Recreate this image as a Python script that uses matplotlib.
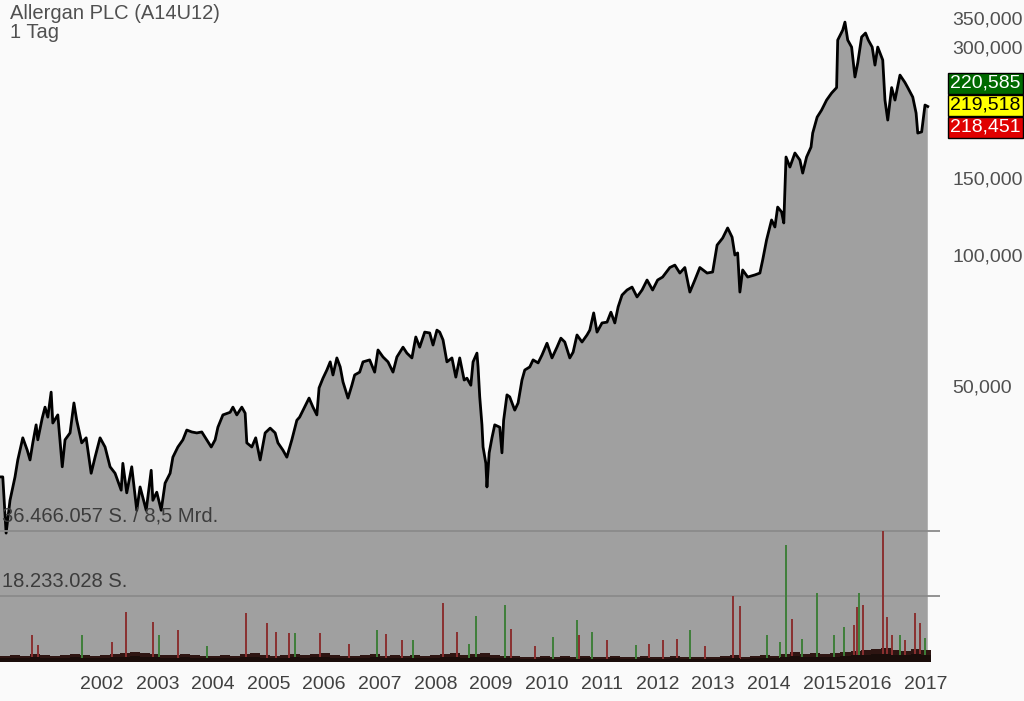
import matplotlib
matplotlib.use("Agg")
import matplotlib.pyplot as plt
from matplotlib.ticker import FixedLocator, FixedFormatter
import numpy as np

plt.rcParams['font.family'] = ['Liberation Sans', 'DejaVu Sans']

# chart position (years along the trading axis) and close price in EUR
pos = [2000.17, 2000.22, 2000.28, 2000.35, 2000.44, 2000.49, 2000.58, 2000.66, 2000.71, 2000.76,
       2000.82, 2000.85, 2000.93, 2000.98, 2001.03, 2001.09, 2001.12, 2001.21, 2001.29, 2001.34,
       2001.43, 2001.50, 2001.55, 2001.64, 2001.72, 2001.81, 2001.88, 2001.97, 2002.06, 2002.15,
       2002.24, 2002.35, 2002.38, 2002.45, 2002.54, 2002.63, 2002.69, 2002.80, 2002.89, 2002.92,
       2002.99, 2003.07, 2003.14, 2003.23, 2003.28, 2003.37, 2003.46, 2003.53, 2003.62, 2003.71,
       2003.80, 2003.89, 2003.97, 2004.04, 2004.09, 2004.18, 2004.31, 2004.36, 2004.43, 2004.52,
       2004.58, 2004.61, 2004.70, 2004.77, 2004.85, 2004.94, 2005.03, 2005.12, 2005.17, 2005.26,
       2005.33, 2005.42, 2005.51, 2005.56, 2005.65, 2005.73, 2005.80, 2005.87, 2005.91, 2005.98,
       2006.05, 2006.11, 2006.16, 2006.23, 2006.29, 2006.34, 2006.43, 2006.50, 2006.55, 2006.64,
       2006.70, 2006.82, 2006.91, 2006.97, 2007.06, 2007.15, 2007.24, 2007.31, 2007.42, 2007.49,
       2007.58, 2007.65, 2007.72, 2007.81, 2007.90, 2007.96, 2008.03, 2008.08, 2008.14, 2008.21,
       2008.30, 2008.37, 2008.44, 2008.52, 2008.57, 2008.64, 2008.68, 2008.75, 2008.77, 2008.80,
       2008.84, 2008.86, 2008.91, 2008.93, 2008.97, 2009.02, 2009.07, 2009.16, 2009.20, 2009.23,
       2009.29, 2009.34, 2009.43, 2009.49, 2009.56, 2009.61, 2009.70, 2009.76, 2009.85, 2009.92,
       2010.01, 2010.10, 2010.19, 2010.26, 2010.33, 2010.42, 2010.48, 2010.55, 2010.64, 2010.73,
       2010.78, 2010.85, 2010.91, 2011.00, 2011.09, 2011.16, 2011.23, 2011.29, 2011.36, 2011.45,
       2011.54, 2011.63, 2011.72, 2011.81, 2011.91, 2012.00, 2012.09, 2012.22, 2012.31, 2012.40,
       2012.49, 2012.58, 2012.67, 2012.76, 2012.89, 2012.99, 2013.07, 2013.17, 2013.26, 2013.34,
       2013.39, 2013.44, 2013.48, 2013.53, 2013.62, 2013.75, 2013.84, 2013.89, 2013.96, 2014.05,
       2014.11, 2014.16, 2014.23, 2014.27, 2014.31, 2014.38, 2014.47, 2014.56, 2014.61, 2014.68,
       2014.76, 2014.79, 2014.87, 2014.95, 2015.04, 2015.13, 2015.22, 2015.24, 2015.33, 2015.37,
       2015.42, 2015.49, 2015.55, 2015.60, 2015.67, 2015.74, 2015.79, 2015.86, 2015.91, 2015.96,
       2016.05, 2016.09, 2016.14, 2016.21, 2016.27, 2016.36, 2016.45, 2016.50, 2016.59, 2016.65,
       2016.68, 2016.75, 2016.81, 2016.86]
close = [30.9, 30.9, 22.95, 27.3, 30.9, 33.8, 38.0, 35.6, 33.8, 37.0,
         40.7, 37.6, 42.2, 44.7, 42.4, 48.4, 41.1, 42.9, 32.6, 37.6,
         39.0, 45.7, 41.7, 37.0, 38.0, 31.5, 34.3, 38.0, 36.2, 32.6,
         31.5, 28.8, 33.2, 28.4, 32.6, 25.9, 29.3, 25.9, 32.0, 27.3,
         28.5, 25.9, 29.9, 31.5, 34.3, 36.2, 37.6, 39.6, 39.2, 39.0,
         39.2, 37.6, 36.2, 37.6, 40.2, 42.9, 43.5, 44.7, 42.9, 44.7,
         43.3, 37.0, 36.2, 38.0, 33.8, 39.0, 40.0, 39.0, 37.0, 35.6,
         34.3, 37.6, 41.7, 42.4, 44.7, 46.9, 44.7, 42.9, 49.5, 52.1,
         54.4, 56.8, 53.0, 58.0, 55.3, 51.1, 46.9, 50.2, 53.0, 53.8,
         56.8, 57.4, 53.8, 60.5, 58.3, 56.8, 53.8, 58.3, 61.4, 59.5,
         58.0, 64.8, 61.4, 66.5, 66.2, 62.1, 67.2, 66.5, 63.8, 56.8,
         58.0, 52.4, 58.0, 51.6, 52.1, 50.2, 56.8, 59.5, 55.3, 47.2,
         40.7, 36.2, 33.2, 29.3, 35.1, 38.0, 40.7, 40.2, 35.1, 41.7,
         47.7, 47.2, 44.0, 45.7, 51.6, 54.4, 55.3, 57.4, 56.5, 58.9,
         62.7, 58.0, 61.4, 64.4, 63.1, 58.0, 59.8, 65.5, 63.1, 65.5,
         67.2, 73.6, 66.5, 69.8, 70.1, 73.9, 69.8, 76.0, 80.9, 83.1,
         84.4, 80.1, 83.1, 87.6, 83.1, 87.6, 89.0, 93.6, 94.8, 90.9,
         93.6, 82.2, 87.6, 93.6, 90.9, 91.4, 105.4, 109.4, 115.4, 109.9,
         100.0, 101.1, 82.2, 92.4, 89.0, 90.0, 90.9, 97.4, 108.3, 120.4,
         116.0, 128.9, 125.6, 118.5, 168.0, 159.3, 171.6, 165.3, 154.3, 168.0,
         177.1, 190.7, 207.5, 215.4, 227.1, 235.7, 242.6, 312.0, 328.9, 343.1,
         312.0, 300.6, 256.6, 276.3, 317.1, 323.8, 312.0, 300.6, 273.3, 300.6,
         280.7, 227.1, 204.3, 242.6, 227.1, 259.2, 249.2, 242.6, 230.7, 212.0,
         190.7, 191.9, 221.2, 219.5]

year_pos = [2002, 2003, 2004, 2005, 2006, 2007, 2008, 2009, 2010, 2011,
            2012, 2013, 2014, 2015, 2015.82, 2016.83]
year_labels = ['2002', '2003', '2004', '2005', '2006', '2007', '2008', '2009', '2010', '2011',
               '2012', '2013', '2014', '2015', '2016', '2017']

price_ticks = [50, 100, 150, 300, 350]
price_labels = ['50,000', '100,000', '150,000', '300,000', '350,000']

# background daily volume, millions of shares, one reading every 0.18 chart years
vol_base_start = 2000.17
vol_base_step = 0.18
vol_base = [1.7, 1.9, 1.7, 2.2, 1.9, 1.7, 1.9, 2.2, 1.9, 1.7,
            1.9, 2.2, 2.5, 2.8, 2.5, 2.2, 1.9, 1.9, 2.2, 1.9,
            1.7, 1.7, 1.9, 1.7, 2.2, 2.5, 1.9, 1.7, 1.9, 2.2,
            1.9, 2.2, 2.5, 1.9, 1.7, 1.7, 1.9, 2.2, 1.7, 1.9,
            1.7, 1.9, 1.7, 1.9, 2.2, 2.5, 1.9, 2.2, 2.5, 1.9,
            1.7, 1.7, 1.4, 1.4, 1.7, 1.4, 1.7, 1.4, 1.7, 1.4,
            1.4, 1.7, 1.4, 1.4, 1.7, 1.4, 1.4, 1.7, 1.4, 1.4,
            1.4, 1.4, 1.7, 1.9, 1.4, 1.7, 1.9, 1.7, 2.2, 2.8,
            2.2, 2.5, 2.2, 2.5, 2.8, 3.1, 3.3, 3.6, 3.9, 3.3,
            3.1, 3.6, 3.3]

# high volume days (millions), green = up day, red = down day
spike_pos = [2000.75, 2000.85, 2001.64, 2002.18, 2002.44, 2002.92, 2003.03, 2003.37, 2003.90,
             2004.59, 2004.97, 2005.13, 2005.37, 2005.48, 2005.93, 2006.45, 2006.95, 2007.11,
             2007.40, 2007.60, 2008.14, 2008.39, 2008.60, 2008.73, 2009.25, 2009.36, 2009.80,
             2010.12, 2010.55, 2010.58, 2010.82, 2011.09, 2011.61, 2011.84, 2012.09, 2012.35,
             2012.58, 2012.85, 2013.35, 2013.48, 2013.97, 2014.20, 2014.31, 2014.42, 2014.60,
             2014.87, 2015.17, 2015.35, 2015.53, 2015.58, 2015.62, 2015.69, 2016.05, 2016.12,
             2016.21, 2016.36, 2016.45, 2016.63, 2016.72, 2016.81]
spike_vol = [7.5, 4.7, 7.5, 5.6, 13.9, 11.1, 7.5, 8.9, 4.5,
             13.6, 10.9, 8.4, 8.1, 8.1, 8.1, 5.0, 8.9, 7.8,
             6.1, 6.1, 16.4, 8.4, 5.0, 12.8, 15.9, 9.2, 4.5,
             7.0, 11.7, 7.5, 8.4, 6.1, 4.7, 5.0, 6.1, 6.4,
             8.9, 4.5, 18.4, 15.6, 7.5, 5.5, 32.6, 12.0, 6.5,
             19.2, 7.5, 9.7, 10.3, 15.3, 19.2, 15.9, 36.5, 12.5,
             7.5, 7.5, 6.1, 13.6, 10.9, 6.7]
spike_up = [False, False, True, False, False, False, True, False, True,
            False, False, False, False, True, False, False, True, False,
            False, True, False, False, True, True, True, False, False,
            True, True, False, True, False, True, False, False, False,
            True, False, False, False, True, True, True, False, True,
            True, True, True, False, False, True, False, False, False,
            False, True, False, False, False, True]

vol_levels = [36466057, 18233028]
vol_level_labels = ['36.466.057 S. / 8,5 Mrd.', '18.233.028 S.']

quotes = ['220,585', '219,518', '218,451']
quote_colors = ['#006a00', '#ffff00', '#e00000']
quote_text = ['white', 'black', 'white']
last_close = 219.518

W, H = 1024, 701
fig = plt.figure(figsize=(W / 100, H / 100), dpi=100, facecolor='#fafafa')
ax = fig.add_axes([0, 39 / H, 940 / W, 662 / H])
ax.set_facecolor('#fafafa')
ax.set_yscale('log')
ax.set_xlim(2000.17, 2017.08)
ax.set_ylim(11.6, 385.7)

ax.fill_between(pos, close, 1, color='#a0a0a0', lw=0, zorder=1)
ax.plot(pos, close, color='black', lw=2.0, zorder=3)

for s in ax.spines.values():
    s.set_visible(False)

# volume panel on the same x axis
vax = ax.twinx()
vax.set_ylim(0, 36.466 * 662 / 131)
vax.set_axis_off()
base_x = vol_base_start + vol_base_step * np.arange(len(vol_base))
vax.bar(base_x, vol_base, width=vol_base_step, align='edge', color='#2e1512', lw=0, zorder=2)
for x, v, up in zip(spike_pos, spike_vol, spike_up):
    vax.vlines(x, 0, v, color='#3f7f3a' if up else '#8a3030', lw=1.4, zorder=3)
vax.bar(base_x, np.array(vol_base) * 0.6, width=vol_base_step, align='edge',
        color='#1a0d0a', lw=0, zorder=4)
for lvl, lab in zip(vol_levels, vol_level_labels):
    vax.axhline(lvl / 1e6, color='#8a8a8a', lw=1.3, zorder=1.5)
    vax.annotate(lab, xy=(0, lvl / 1e6), xycoords=('axes fraction', 'data'),
                 xytext=(2, 5), textcoords='offset pixels', fontsize=14.5,
                 color='#3c3c3c', va='bottom', ha='left', zorder=2)

# twinx moves the price ticks to the left, so set them after it
ax.yaxis.tick_right()
ax.yaxis.set_major_locator(FixedLocator(price_ticks))
ax.yaxis.set_major_formatter(FixedFormatter(price_labels))
ax.yaxis.set_minor_locator(FixedLocator([]))
ax.tick_params(axis='y', which='both', left=False, right=False, length=0, pad=9,
               labelleft=False, labelright=True, labelsize=14, labelcolor='#505050')
ax.xaxis.set_major_locator(FixedLocator(year_pos))
ax.xaxis.set_major_formatter(FixedFormatter(year_labels))
ax.tick_params(axis='x', length=0, pad=10, labelsize=14, labelcolor='#404040')

# last quote boxes
for i, (q, c, tc) in enumerate(zip(quotes, quote_colors, quote_text)):
    ax.annotate(q, xy=(1, last_close), xycoords=('axes fraction', 'data'),
                xytext=(10, 23 - 22 * i), textcoords='offset pixels',
                fontsize=14, color=tc, va='center', ha='left', annotation_clip=False,
                bbox=dict(boxstyle='square,pad=0.12', fc=c, ec='black', lw=1))

fig.text(10 / W, 1 - 19 / H, 'Allergan PLC (A14U12)', fontsize=14.5, color='#505050',
         va='baseline', ha='left')
fig.text(10 / W, 1 - 38 / H, '1 Tag', fontsize=14.5, color='#505050',
         va='baseline', ha='left')

fig.savefig('out.png', dpi=100, facecolor=fig.get_facecolor())
